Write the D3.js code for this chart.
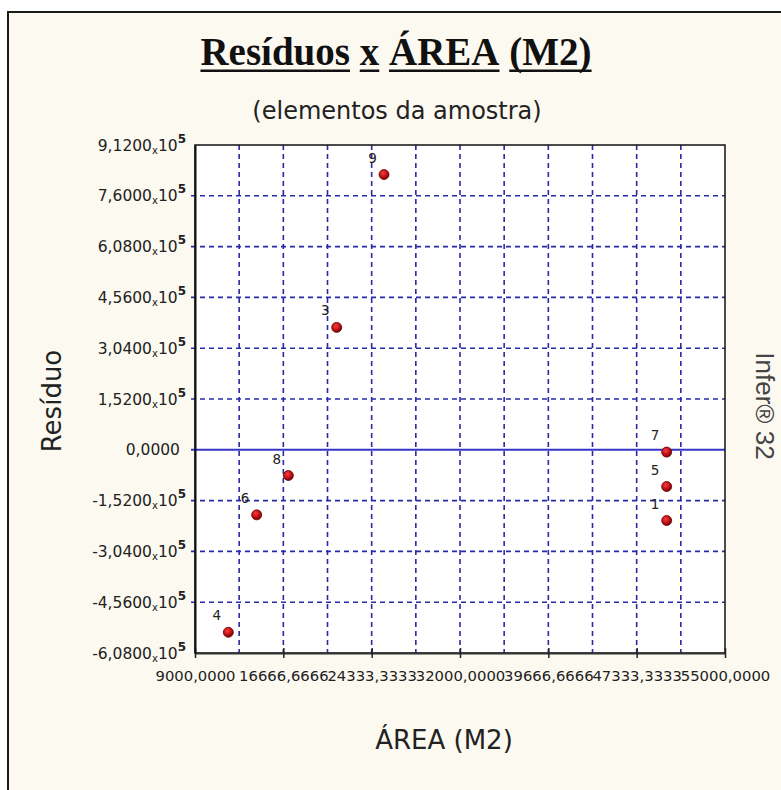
<!DOCTYPE html>
<html>
<head>
<meta charset="utf-8">
<script src="https://cdn.jsdelivr.net/npm/d3@7"></script>
<style>
  body { margin: 0; background: #fff; }
  svg { display: block; }
</style>
</head>
<body>
<div id="chart-area"></div>
<script>
// sample points (numbered elements of the sample)
const pointIds = ['1', '3', '4', '5', '6', '7', '8', '9'];
const areaValues = [49937, 21298, 11893, 49937, 14352, 49937, 17100, 25404];
const residuals = [-211700, 366300, -546000, -109900, -194700, -6900, -77000, 823600];

// axis ticks as printed on the chart
const xTicks = [9000, 16666.6667, 24333.3333, 32000, 39666.6667, 47333.3333, 55000];
const xTickLabels = ['9000,0000', '16666,6666', '24333,3333', '32000,0000', '39666,6666', '47333,3333', '55000,0000'];
const yTicks = [-608000, -456000, -304000, -152000, 0, 152000, 304000, 456000, 608000, 760000, 912000];
const yTickLabels = ['-6,0800', '-4,5600', '-3,0400', '-1,5200', '0,0000', '1,5200', '3,0400', '4,5600', '6,0800', '7,6000', '9,1200'];

const W = 781, H = 790;
const plot = { left: 195, right: 725, top: 145, bottom: 653 };
const gridBlue = '#2a2aa8';

const svg = d3.select('#chart-area')
  .append('svg')
    .attr('width', W)
    .attr('height', H);

// outer frame
svg.append('rect')
  .attr('x', 8).attr('y', 12)
  .attr('width', 820).attr('height', 820)
  .attr('fill', '#fcf9f1')
  .attr('stroke', '#1a1a1a')
  .attr('stroke-width', 2);

const x = d3.scaleLinear()
  .domain([xTicks[0], xTicks[xTicks.length - 1]])
  .range([plot.left, plot.right]);

const y = d3.scaleLinear()
  .domain([yTicks[0], yTicks[yTicks.length - 1]])
  .range([plot.bottom, plot.top]);

// plot background
svg.append('rect')
  .attr('x', plot.left).attr('y', plot.top)
  .attr('width', plot.right - plot.left)
  .attr('height', plot.bottom - plot.top)
  .attr('fill', '#fff');

// vertical grid: every major tick plus the halfway lines
const xGrid = xTicks.slice(1, -1)
  .concat(xTicks.slice(1).map((t, i) => (t + xTicks[i]) / 2));

svg.append('g')
  .selectAll('line')
  .data(xGrid)
  .enter()
  .append('line')
    .attr('x1', d => x(d)).attr('x2', d => x(d))
    .attr('y1', plot.top).attr('y2', plot.bottom)
    .attr('stroke', gridBlue)
    .attr('stroke-width', 1.6)
    .attr('stroke-dasharray', '5,4');

// horizontal grid, zero line solid
svg.append('g')
  .selectAll('line')
  .data(yTicks.slice(1, -1))
  .enter()
  .append('line')
    .attr('x1', plot.left - 4).attr('x2', plot.right)
    .attr('y1', d => y(d)).attr('y2', d => y(d))
    .attr('stroke', d => d === 0 ? '#3434c8' : gridBlue)
    .attr('stroke-width', d => d === 0 ? 2 : 1.6)
    .attr('stroke-dasharray', d => d === 0 ? null : '5,4');

// plot border
svg.append('rect')
  .attr('x', plot.left).attr('y', plot.top)
  .attr('width', plot.right - plot.left)
  .attr('height', plot.bottom - plot.top)
  .attr('fill', 'none')
  .attr('stroke', '#111')
  .attr('stroke-width', 1.5);

// x axis
const xAxis = svg.append('g')
  .attr('transform', 'translate(0,' + plot.bottom + ')')
  .call(d3.axisBottom(x)
    .tickValues(xTicks)
    .tickFormat((d, i) => xTickLabels[i])
    .tickSizeInner(5)
    .tickSizeOuter(0)
    .tickPadding(20));

xAxis.select('.domain').attr('stroke', '#333').attr('stroke-width', 2);
xAxis.selectAll('.tick line')
  .attr('y1', -5)
  .attr('stroke', '#222')
  .attr('stroke-width', 1.5);
xAxis.selectAll('.tick text')
  .attr('fill', '#222')
  .attr('font-family', 'DejaVu Sans')
  .attr('font-size', 14.8)
  .attr('dy', '0.2em');

// y axis
const yAxis = svg.append('g')
  .attr('transform', 'translate(' + plot.left + ',0)')
  .call(d3.axisLeft(y)
    .tickValues(yTicks)
    .tickSizeInner(0)
    .tickSizeOuter(0)
    .tickPadding(9));

yAxis.select('.domain').attr('stroke', '#111').attr('stroke-width', 2);
yAxis.selectAll('.tick text')
  .attr('fill', '#222')
  .attr('font-family', 'DejaVu Sans')
  .attr('font-size', 15.5)
  .attr('dy', '0.33em')
  .each(function (d, i) {
    const t = d3.select(this).text(null);
    if (d === 0) {
      t.attr('x', -15).text(yTickLabels[i]);
      return;
    }
    t.attr('x', -9);
    t.append('tspan').text(yTickLabels[i]);
    t.append('tspan').attr('font-size', 10).attr('dy', 3).text('x');
    t.append('tspan').attr('dy', -3).text('10');
    t.append('tspan').attr('font-size', 12).attr('font-weight', 'bold').attr('dy', -8).text('5');
  });

// points
const defs = svg.append('defs');
const grad = defs.append('radialGradient')
  .attr('id', 'ball')
  .attr('cx', '40%').attr('cy', '35%').attr('r', '65%');
grad.append('stop').attr('offset', '0%').attr('stop-color', '#f04040');
grad.append('stop').attr('offset', '60%').attr('stop-color', '#c01018');
grad.append('stop').attr('offset', '100%').attr('stop-color', '#700000');

const pts = pointIds.map((id, i) => ({ id: id, area: areaValues[i], res: residuals[i] }));

svg.append('g')
  .selectAll('circle')
  .data(pts)
  .enter()
  .append('circle')
    .attr('cx', d => x(d.area))
    .attr('cy', d => y(d.res))
    .attr('r', 5)
    .attr('fill', 'url(#ball)')
    .attr('stroke', '#6a0000')
    .attr('stroke-width', 0.8);

svg.append('g')
  .selectAll('text')
  .data(pts)
  .enter()
  .append('text')
    .attr('x', d => x(d.area) - 11.5)
    .attr('y', d => y(d.res) - 12)
    .attr('text-anchor', 'middle')
    .attr('font-family', 'DejaVu Sans')
    .attr('font-size', 13.5)
    .attr('fill', '#222')
    .text(d => d.id);

// title, underlined word by word
const titleWords = ['Resíduos', 'x', 'ÁREA', '(M2)'];
const titleSize = 39;
const title = svg.append('g');
const wordNodes = titleWords.map(w => title.append('text')
  .attr('y', 65)
  .attr('font-family', 'Liberation Serif')
  .attr('font-weight', 'bold')
  .attr('font-size', titleSize)
  .attr('fill', '#111')
  .text(w));
const widths = wordNodes.map(n => n.node().getComputedTextLength());
const gap = titleSize * 0.25;
const total = d3.sum(widths) + gap * (widths.length - 1);
let cx = 396 - total / 2;
wordNodes.forEach((n, i) => {
  n.attr('x', cx);
  title.append('rect')
    .attr('x', cx).attr('y', 69.5)
    .attr('width', widths[i]).attr('height', 2.5)
    .attr('fill', '#111');
  cx += widths[i] + gap;
});

svg.append('text')
  .attr('x', 397).attr('y', 119)
  .attr('text-anchor', 'middle')
  .attr('font-family', 'DejaVu Sans')
  .attr('font-size', 24)
  .attr('fill', '#222')
  .text('(elementos da amostra)');

// axis titles
svg.append('text')
  .attr('x', 444).attr('y', 749)
  .attr('text-anchor', 'middle')
  .attr('font-family', 'DejaVu Sans')
  .attr('font-size', 26)
  .attr('fill', '#222')
  .text('ÁREA (M2)');

svg.append('text')
  .attr('transform', 'translate(61,401) rotate(-90)')
  .attr('text-anchor', 'middle')
  .attr('font-family', 'DejaVu Sans')
  .attr('font-size', 26)
  .attr('fill', '#222')
  .text('Resíduo');

svg.append('text')
  .attr('transform', 'translate(756,406) rotate(90)')
  .attr('text-anchor', 'middle')
  .attr('font-family', 'Liberation Sans')
  .attr('font-size', 26)
  .attr('fill', '#444')
  .text('Infer® 32');
</script>
</body>
</html>
